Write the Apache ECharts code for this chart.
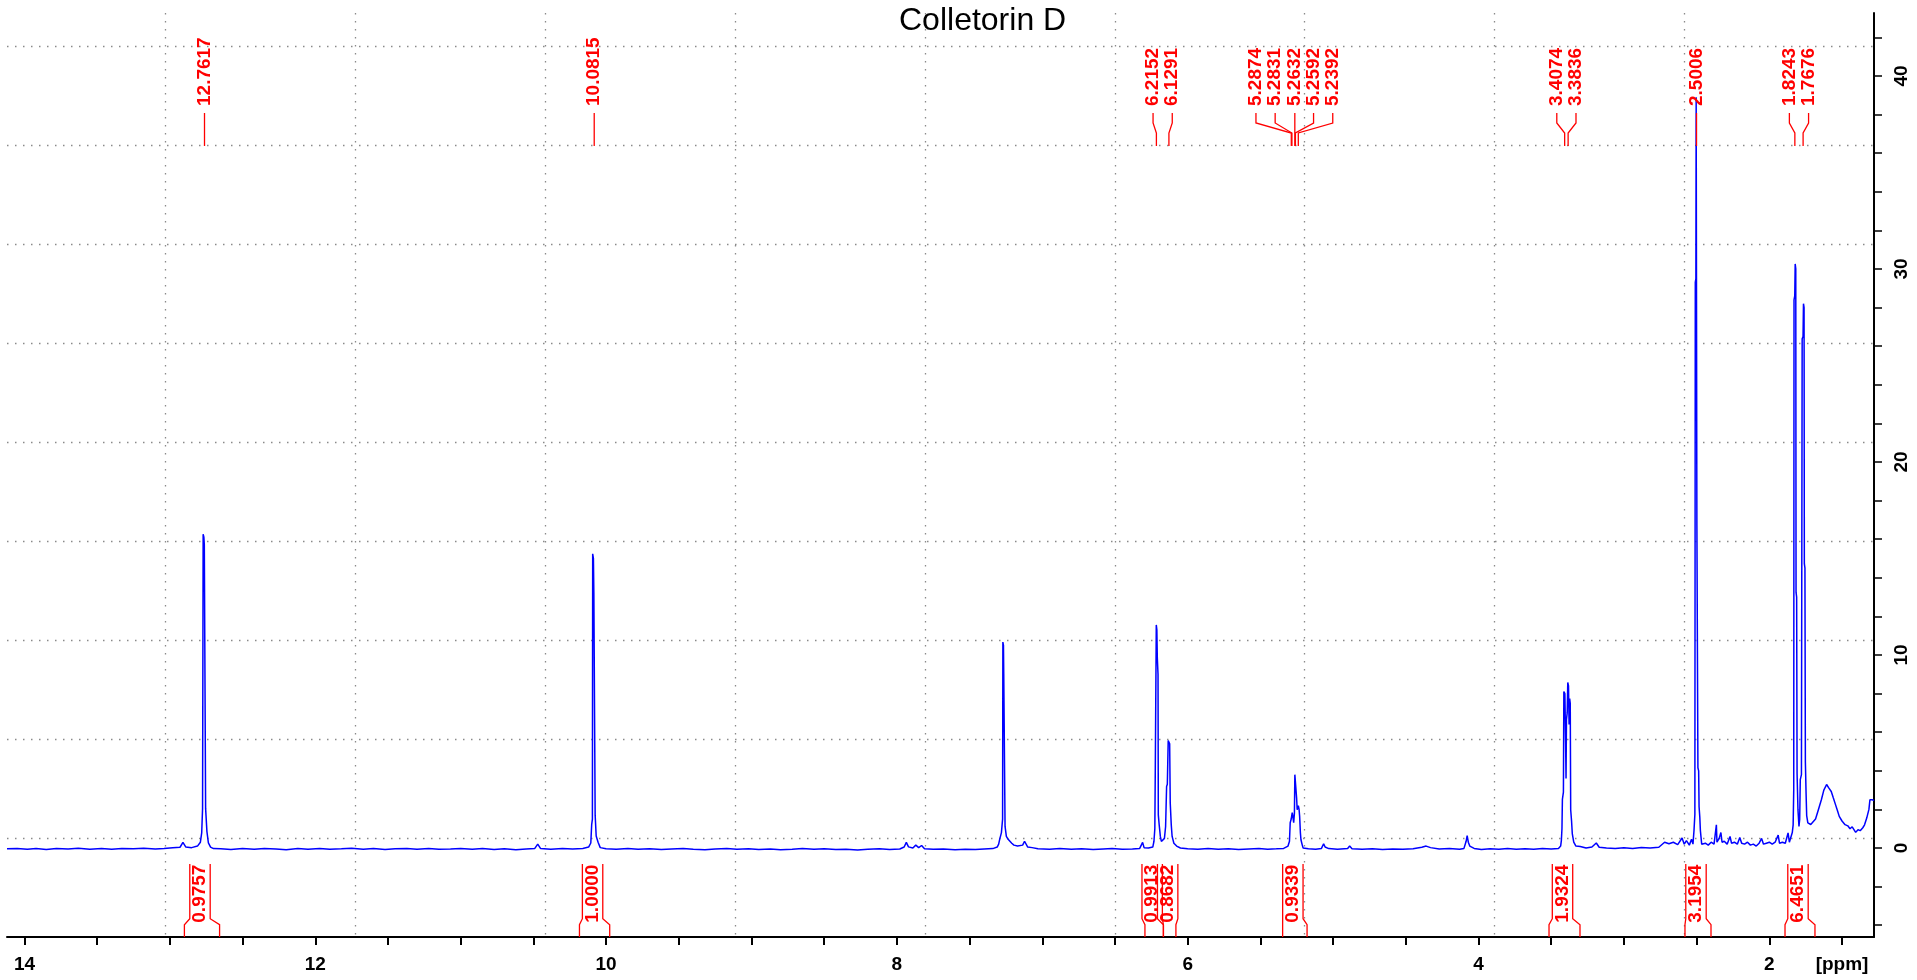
<!DOCTYPE html>
<html>
<head>
<meta charset="utf-8">
<title>Colletorin D</title>
<script src="https://cdn.jsdelivr.net/npm/echarts@6/dist/echarts.min.js"></script>
<style>
  html, body { margin: 0; padding: 0; background: #ffffff; }
  #chart { width: 1917px; height: 980px; }
</style>
</head>
<body>
<div id="chart"></div>
<script>
// 1H NMR spectrum of Colletorin D: chemical shift (ppm) vs. intensity
const spectrumPoints = [
  [14.12,-0.04],[14.05,-0.02],[13.98,-0.07],[13.92,-0.03],[13.85,-0.08],[13.78,-0.02],[13.70,-0.05],[13.63,-0.01],
  [13.55,-0.06],[13.47,-0.03],[13.40,-0.07],[13.33,-0.02],[13.25,-0.04],[13.18,-0.01],[13.10,-0.05],[13.04,-0.02],
  [12.98,0.02],[12.93,0.04],[12.91,0.29],[12.89,0.05],[12.85,0.02],[12.81,0.10],[12.79,0.30],[12.781,0.78],
  [12.775,2.04],[12.771,16.26],[12.766,16.10],[12.763,15.71],[12.757,15.71],[12.754,2.04],[12.745,0.85],[12.735,0.27],
  [12.72,0.05],[12.70,-0.03],[12.65,-0.04],[12.58,-0.08],[12.50,-0.03],[12.42,-0.06],[12.35,-0.02],[12.27,-0.05],
  [12.20,-0.09],[12.12,-0.03],[12.05,-0.06],[11.97,-0.02],[11.90,-0.07],[11.82,-0.04],[11.75,-0.01],[11.67,-0.06],
  [11.60,-0.03],[11.52,-0.08],[11.45,-0.04],[11.37,-0.02],[11.30,-0.06],[11.22,-0.03],[11.15,-0.07],[11.07,-0.05],
  [11.00,-0.02],[10.92,-0.06],[10.85,-0.03],[10.77,-0.08],[10.70,-0.04],[10.62,-0.09],[10.55,-0.05],[10.49,-0.02],
  [10.47,0.20],[10.45,-0.03],[10.38,-0.06],[10.30,-0.03],[10.23,-0.05],[10.16,-0.02],[10.12,0.05],[10.105,0.26],
  [10.099,1.21],[10.094,1.5],[10.092,15.24],[10.087,15.0],[10.084,13.22],[10.078,13.22],[10.075,1.69],[10.068,0.62],
  [10.055,0.30],[10.04,0.02],[10.00,-0.04],[9.93,-0.06],[9.85,-0.03],[9.78,-0.07],[9.70,-0.04],[9.62,-0.08],
  [9.55,-0.05],[9.47,-0.02],[9.40,-0.06],[9.32,-0.09],[9.25,-0.05],[9.17,-0.03],[9.10,-0.07],[9.02,-0.04],
  [8.95,-0.08],[8.87,-0.05],[8.80,-0.09],[8.72,-0.06],[8.65,-0.03],[8.57,-0.07],[8.50,-0.04],[8.42,-0.08],
  [8.35,-0.06],[8.27,-0.10],[8.20,-0.07],[8.12,-0.04],[8.05,-0.08],[7.98,-0.05],[7.95,0.05],[7.935,0.29],
  [7.92,0.06],[7.89,0.00],[7.87,0.15],[7.85,0.02],[7.83,0.13],[7.81,-0.04],[7.75,-0.07],[7.68,-0.05],
  [7.60,-0.09],[7.53,-0.06],[7.46,-0.08],[7.40,-0.05],[7.34,-0.03],[7.31,0.05],[7.30,0.20],[7.293,0.45],
  [7.281,0.80],[7.273,1.5],[7.271,10.67],[7.267,10.5],[7.265,9.01],[7.259,9.01],[7.256,1.12],[7.247,0.60],
  [7.235,0.45],[7.225,0.35],[7.21,0.25],[7.195,0.15],[7.17,0.10],[7.135,0.15],[7.122,0.35],[7.11,0.30],
  [7.10,0.05],[7.07,0.02],[7.03,-0.04],[6.95,-0.06],[6.88,-0.03],[6.80,-0.07],[6.73,-0.04],[6.65,-0.08],
  [6.58,-0.05],[6.52,-0.03],[6.45,-0.07],[6.38,-0.05],[6.33,-0.02],[6.31,0.29],[6.30,0.02],[6.27,0.00],
  [6.24,0.05],[6.232,0.35],[6.226,1.0],[6.223,3.88],[6.218,3.88],[6.216,11.56],[6.212,11.3],[6.209,9.87],
  [6.204,9.0],[6.202,1.72],[6.196,1.2],[6.188,0.60],[6.181,0.34],[6.170,0.25],[6.160,0.50],[6.152,1.1],
  [6.145,3.19],[6.140,3.3],[6.134,5.57],[6.128,5.5],[6.124,5.4],[6.120,2.33],[6.113,1.2],[6.107,0.60],
  [6.095,0.25],[6.076,0.10],[6.05,0.00],[6.00,-0.04],[5.93,-0.07],[5.86,-0.03],[5.79,-0.06],[5.72,-0.04],
  [5.65,-0.08],[5.58,-0.05],[5.51,-0.03],[5.45,-0.06],[5.39,-0.04],[5.34,-0.02],[5.31,0.10],[5.300,0.35],
  [5.295,1.31],[5.288,1.5],[5.281,1.83],[5.276,1.6],[5.271,1.31],[5.266,1.8],[5.263,3.8],[5.254,3.8],
  [5.251,2.6],[5.247,1.98],[5.242,2.05],[5.239,2.19],[5.234,2.0],[5.230,1.64],[5.225,0.80],[5.221,0.43],
  [5.212,0.15],[5.206,0.00],[5.17,-0.04],[5.12,-0.06],[5.08,-0.02],[5.065,0.22],[5.055,0.05],[5.045,0.12],
  [5.03,-0.03],[4.97,-0.06],[4.90,-0.03],[4.886,0.10],[4.87,-0.04],[4.80,-0.07],[4.73,-0.04],[4.66,-0.08],
  [4.59,-0.05],[4.52,-0.07],[4.45,-0.04],[4.39,0.04],[4.36,0.10],[4.33,0.02],[4.27,-0.05],[4.20,-0.03],
  [4.13,-0.06],[4.10,-0.02],[4.085,0.35],[4.078,0.64],[4.070,0.30],[4.06,0.10],[4.03,-0.02],[3.98,-0.08],
  [3.92,-0.04],[3.86,-0.07],[3.80,-0.03],[3.74,-0.06],[3.68,-0.04],[3.62,-0.07],[3.56,-0.03],[3.50,-0.05],
  [3.45,-0.02],[3.435,0.10],[3.430,0.40],[3.426,1.0],[3.423,2.52],[3.416,2.9],[3.413,8.11],[3.406,8.0],
  [3.401,5.5],[3.398,3.6],[3.395,6.65],[3.390,7.0],[3.386,8.58],[3.381,8.4],[3.377,6.4],[3.373,7.74],
  [3.369,7.5],[3.366,1.98],[3.360,1.4],[3.355,0.75],[3.345,0.30],[3.33,0.10],[3.30,0.08],[3.26,0.00],
  [3.22,0.05],[3.19,0.26],[3.17,0.04],[3.12,0.00],[3.06,-0.03],[3.00,0.02],[2.94,-0.02],[2.88,0.03],
  [2.82,0.00],[2.76,0.04],[2.72,0.30],[2.69,0.22],[2.66,0.30],[2.63,0.18],[2.60,0.52],[2.585,0.20],
  [2.57,0.38],[2.55,0.15],[2.535,0.45],[2.525,0.20],[2.518,0.90],[2.512,1.74],[2.509,29.3],[2.505,29.5],
  [2.503,38.9],[2.500,38.9],[2.498,16.7],[2.494,16.7],[2.491,4.16],[2.486,4.0],[2.483,2.14],[2.478,1.6],
  [2.474,0.90],[2.465,0.20],[2.455,0.28],[2.44,0.25],[2.42,0.15],[2.40,0.30],[2.38,0.20],[2.367,0.30],
  [2.364,1.2],[2.360,0.30],[2.345,0.50],[2.333,0.80],[2.325,0.30],[2.31,0.35],[2.29,0.20],[2.27,0.60],
  [2.26,0.25],[2.24,0.30],[2.22,0.20],[2.203,0.55],[2.19,0.25],[2.17,0.20],[2.15,0.30],[2.13,0.15],
  [2.11,0.20],[2.09,0.10],[2.07,0.25],[2.053,0.50],[2.04,0.20],[2.02,0.25],[2.00,0.30],[1.98,0.20],
  [1.96,0.30],[1.939,0.67],[1.93,0.25],[1.91,0.30],[1.89,0.25],[1.871,0.78],[1.862,0.30],[1.850,0.35],
  [1.842,0.80],[1.836,1.2],[1.832,3.0],[1.830,28.4],[1.825,28.6],[1.822,30.26],[1.818,30.0],[1.816,13.24],
  [1.812,13.0],[1.809,3.85],[1.803,2.0],[1.796,1.12],[1.791,1.5],[1.787,3.54],[1.779,3.8],[1.774,26.38],
  [1.768,26.5],[1.765,28.2],[1.761,28.0],[1.759,14.73],[1.755,14.5],[1.752,4.48],[1.747,2.8],[1.743,1.68],
  [1.735,1.3],[1.725,1.21],[1.715,1.22],[1.700,1.35],[1.682,1.5],[1.662,2.0],[1.642,2.5],[1.625,3.0],
  [1.606,3.29],[1.590,3.1],[1.574,2.93],[1.560,2.6],[1.547,2.3],[1.530,1.9],[1.519,1.64],[1.500,1.4],
  [1.479,1.21],[1.460,1.15],[1.445,1.0],[1.430,1.1],[1.420,1.15],[1.406,0.81],[1.390,0.95],[1.375,0.90],
  [1.357,1.05],[1.345,1.2],[1.330,1.55],[1.315,2.0],[1.308,2.5],[1.29,2.5],[1.28,2.45]
];

// Picked peaks (ppm)
const peakShifts = [12.7617, 10.0815, 6.2152, 6.1291, 5.2874, 5.2831, 5.2632, 5.2592, 5.2392,
                    3.4074, 3.3836, 2.5006, 1.8243, 1.7676];

// Integral regions (ppm) and their normalised areas
const integralStart  = [12.900, 10.183, 6.294, 6.167, 5.347, 3.515, 2.580, 1.892];
const integralEnd    = [12.658,  9.975, 6.167, 6.081, 5.179, 3.302, 2.401, 1.686];
const integralValues = ['0.9757', '1.0000', '0.9913', '0.8682', '0.9339', '1.9324', '3.1954', '6.4651'];

// Axis ticks and labels
const xTickValues  = [14, 13.5, 13, 12.5, 12, 11.5, 11, 10.5, 10, 9.5, 9, 8.5, 8, 7.5, 7, 6.5, 6,
                      5.5, 5, 4.5, 4, 3.5, 3, 2.5, 2, 1.5];
const xLabelValues = [14, 12, 10, 8, 6, 4, 2, 1.5];
const xUnitAt = 1.5;
const xUnitLabel = '[ppm]';
const yTickValues  = [-4, -2, 0, 2, 4, 6, 8, 10, 12, 14, 16, 18, 20, 22, 24, 26, 28, 30, 32, 34,
                      36, 38, 40, 42];
const yLabelValues = [0, 10, 20, 30, 40];

const xMin = 1.28, xMax = 14.12;
const yMin = -4.61, yMax = 43.26;
const gridStepX = 1.3054;
const gridStepY = 5.127;

const FONT = '"Liberation Sans", Arial, Helvetica, sans-serif';
const RED = '#ff0000';
const LABEL_GAP = 19.2;

// Spread crowded peak labels evenly around the centre of each cluster
function peakLabelXs(xs) {
  const groups = [];
  xs.forEach((x, i) => {
    const g = groups[groups.length - 1];
    if (g && x - g.xs[g.xs.length - 1] < LABEL_GAP) { g.idx.push(i); g.xs.push(x); }
    else groups.push({ idx: [i], xs: [x] });
  });
  const out = new Array(xs.length);
  groups.forEach(g => {
    const n = g.xs.length;
    const mean = g.xs.reduce((a, b) => a + b, 0) / n;
    g.idx.forEach((idx, k) => {
      out[idx] = n === 1 ? g.xs[0] : mean + (k - (n - 1) / 2) * LABEL_GAP;
    });
  });
  return out;
}

function renderPeakLabel(params, api) {
  const i = params.dataIndex;
  const top = params.coordSys.y;
  const xs = peakShifts.map(p => api.coord([p, 0])[0]);
  const px = xs[i];
  const lx = peakLabelXs(xs)[i];
  const pts = Math.abs(lx - px) < 0.5
    ? [[px, top + 100], [px, top + 133]]
    : [[lx, top + 100], [lx, top + 110], [px, top + 120], [px, top + 133]];
  return {
    type: 'group',
    children: [
      { type: 'polyline', shape: { points: pts },
        style: { stroke: RED, lineWidth: 1.3, fill: 'none' } },
      { type: 'text', x: lx, y: top + 93, rotation: Math.PI / 2,
        style: { text: peakShifts[i].toFixed(4), fill: RED,
                 font: 'bold 19px ' + FONT, align: 'left', verticalAlign: 'middle' } }
    ]
  };
}

function renderIntegral(params, api) {
  const i = params.dataIndex;
  const cs = params.coordSys;
  const b = cs.y + cs.height;
  const x1 = api.coord([integralStart[i], 0])[0];
  const x2 = api.coord([integralEnd[i], 0])[0];
  const c = (x1 + x2) / 2 - 2;
  const iL = c - 10.2, iR = c + 10.2;
  const st = { stroke: RED, lineWidth: 1.3, fill: 'none' };
  return {
    type: 'group',
    children: [
      { type: 'polyline', shape: { points: [[x1, b], [x1, b - 12.3], [iL, b - 18.3], [iL, b - 73]] }, style: st },
      { type: 'polyline', shape: { points: [[x2, b], [x2, b - 12.3], [iR, b - 18.3], [iR, b - 73]] }, style: st },
      { type: 'text', x: c, y: b - 14.3, rotation: Math.PI / 2,
        style: { text: integralValues[i], fill: RED,
                 font: 'bold 19px ' + FONT, align: 'left', verticalAlign: 'middle' } }
    ]
  };
}

const chart = echarts.init(document.getElementById('chart'), null, { renderer: 'canvas' });

const option = {
  animation: false,
  backgroundColor: '#ffffff',
  title: {
    text: 'Colletorin D',
    left: 899, top: 5, padding: 0,
    textStyle: { fontFamily: FONT, fontSize: 32, fontWeight: 'normal', color: '#000' }
  },
  grid: { left: 7, right: 43, top: 13, bottom: 43 },
  xAxis: [
    {
      type: 'value', inverse: true, min: xMin, max: xMax, position: 'bottom',
      axisLine: { show: true, onZero: false, lineStyle: { color: '#000', width: 2 } },
      axisTick: { show: true, length: 8, customValues: xTickValues, lineStyle: { color: '#000', width: 2 } },
      axisLabel: {
        show: true, customValues: xLabelValues, margin: 18,
        color: '#000', fontWeight: 'bold', fontSize: 19, fontFamily: FONT,
        formatter: v => (Math.abs(v - xUnitAt) < 1e-6 ? xUnitLabel : String(v))
      },
      splitLine: { show: false }
    },
    {
      type: 'value', inverse: true, min: xMin, max: xMax, interval: gridStepX, position: 'top',
      axisLine: { show: false }, axisTick: { show: false }, axisLabel: { show: false },
      splitLine: { show: true, showMinLine: false, showMaxLine: false,
                   lineStyle: { color: '#8a8a8a', width: 1.3, type: [1.5, 6.5] } }
    }
  ],
  yAxis: [
    {
      type: 'value', position: 'right', min: yMin, max: yMax,
      axisLine: { show: true, onZero: false, lineStyle: { color: '#000', width: 2 } },
      axisTick: { show: true, length: 8, customValues: yTickValues, lineStyle: { color: '#000', width: 1.5 } },
      axisLabel: {
        show: true, customValues: yLabelValues, rotate: 90, margin: 18,
        color: '#000', fontWeight: 'bold', fontSize: 19, fontFamily: FONT
      },
      splitLine: { show: false }
    },
    {
      type: 'value', position: 'left', min: yMin, max: yMax, interval: gridStepY,
      axisLine: { show: false }, axisTick: { show: false }, axisLabel: { show: false },
      splitLine: { show: true, showMinLine: false, showMaxLine: false,
                   lineStyle: { color: '#8a8a8a', width: 1.3, type: [1.5, 6.5] } }
    }
  ],
  series: [
    {
      name: 'spectrum', type: 'line', xAxisIndex: 0, yAxisIndex: 0,
      data: spectrumPoints, showSymbol: false, symbol: 'none', sampling: null,
      lineStyle: { color: '#0000ff', width: 1.5 }, z: 2
    },
    {
      name: 'peaks', type: 'custom', xAxisIndex: 0, yAxisIndex: 0, clip: false,
      data: peakShifts.map(p => [p, 0]), renderItem: renderPeakLabel, z: 3, silent: true
    },
    {
      name: 'integrals', type: 'custom', xAxisIndex: 0, yAxisIndex: 0, clip: false,
      data: integralStart.map((s, i) => [s, 0]), renderItem: renderIntegral, z: 3, silent: true
    }
  ]
};

chart.setOption(option);
</script>
</body>
</html>
